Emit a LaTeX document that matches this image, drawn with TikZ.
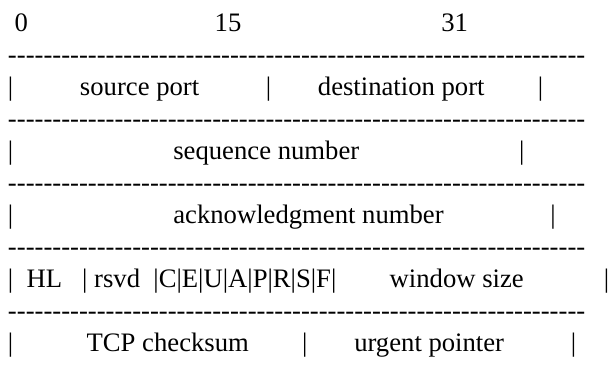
\documentclass[tikz,border=0pt]{standalone}
\usepackage{fontspec}
\setmainfont{Liberation Serif}[Ligatures=TeXOff]
\newcommand{\sps}[1]{\hspace{#1\fontdimen2\font}}
\newcommand{\dashrow}{-----------------------------------------------------------------}
\begin{document}
\begin{tikzpicture}[x=1pt,y=1pt,
  row/.style={anchor=base west, inner sep=0pt, outer sep=0pt,
              font=\fontsize{26.67}{32}\selectfont}]
\useasboundingbox (0,0) rectangle (608,374);
\node[row] (r0) at (8,342) {\sps{1}0\sps{28}15\sps{30}31};
\node[row] (d1) at (8,310) {\dashrow};
\node[row] (r1) at (8,278) {|\sps{10}source port\sps{10}|\sps{7}destination port\sps{8}|};
\node[row] (d2) at (8,246) {\dashrow};
\node[row] (r2) at (8,214) {|\sps{24}sequence number\sps{24}|};
\node[row] (d3) at (8,182) {\dashrow};
\node[row] (r3) at (8,150) {|\sps{24}acknowledgment number\sps{16}|};
\node[row] (d4) at (8,118) {\dashrow};
\node[row] (r4) at (8,86) {|\sps{2}HL\sps{3}|\sps{1}rsvd\sps{2}|C|E|U|A|P|R|S|F|\sps{8}window size\sps{12}|};
\node[row] (d5) at (8,54) {\dashrow};
\node[row] (r5) at (8,22) {|\sps{11}TCP checksum\sps{8}|\sps{7}urgent pointer\sps{10}|};
\end{tikzpicture}
\end{document}
